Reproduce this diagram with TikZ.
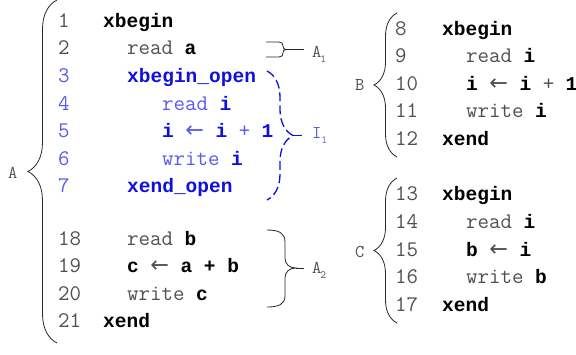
\documentclass[tikz,border=0pt]{standalone}
\usepackage{fontspec}
\newfontfamily\arrowfont{DejaVu Sans}
\newfontfamily\boldmono{Liberation Mono}[Scale=0.875]
\usetikzlibrary{decorations.pathreplacing}
\definecolor{txtgray}{RGB}{80,80,80}
\definecolor{bracegray}{RGB}{40,40,40}
\definecolor{kwblue}{RGB}{15,15,225}
\definecolor{ltblue}{RGB}{90,90,240}
\newcommand{\kw}[1]{{\boldmono\bfseries\textcolor{black}{#1}}}
\newcommand{\bkw}[1]{{\boldmono\bfseries\textcolor{kwblue}{#1}}}
\newcommand{\larr}{{\arrowfont ←}}
\newcommand{\lowidx}[2][0pt]{\hspace*{#1}\raisebox{-5pt}{\fontsize{11}{12}\selectfont #2}}

\begin{document}
\begin{tikzpicture}[x=1pt,y=-1pt,
		font=\ttfamily\fontsize{22.3}{26}\selectfont,
		num/.style={anchor=base west,inner sep=0pt,text=txtgray},
		code/.style={anchor=base west,inner sep=0pt,text=txtgray},
		bnum/.style={num,text=ltblue},
		bcode/.style={code,text=ltblue},
		lbl/.style={anchor=base west,inner sep=0pt,text=txtgray,font=\ttfamily\fontsize{18}{20}\selectfont},
		tag/.style={lbl,inner xsep=8pt},
		brc/.style={decorate,decoration={brace,amplitude=#1},draw=bracegray,line width=0.8pt},
		dbrc/.style={brc=#1,draw=kwblue,line width=1.3pt,dash pattern=on 9pt off 4pt}
		]
		\useasboundingbox (0,0) rectangle (576,354);
		%Transaction A
		\path (58,27) node[num] (n1) {1}
		+(45,0) node[code] (c1) {\kw{xbegin}}
		(58,54.5) node[num] (n2) {2}
		+(69,0) node[code] (c2) {read \kw{a}};
		%Open block
		\path (58,82) node[bnum] (n3) {3}
		+(69,0) node[bcode] (c3) {\bkw{xbegin\_open}}
		(58,110) node[bnum] (n4) {4}
		+(104,0) node[bcode] (c4) {read \bkw{i}}
		(58,137.5) node[bnum] (n5) {5}
		+(104,0) node[bcode] (c5) {\bkw{i} \larr{} \bkw{i} + \bkw{1}}
		(58,165) node[bnum] (n6) {6}
		+(104,0) node[bcode] (c6) {write \bkw{i}}
		(58,192.5) node[bnum] (n7) {7}
		+(69,0) node[bcode] (c7) {\bkw{xend\_open}};
		\path (58,245) node[num] (n18) {18}
		+(69,0) node[code] (c18) {read \kw{b}}
		(58,272.5) node[num] (n19) {19}
		+(69,0) node[code] (c19) {\kw{c} \larr{} \kw{a + b}}
		(58,300) node[num] (n20) {20}
		+(69,0) node[code] (c20) {write \kw{c}}
		(58,327.5) node[num] (n21) {21}
		+(45,0) node[code] (c21) {\kw{xend}};
		%Transaction B
		\path (395,35) node[num] (n8) {8}
		+(47,0) node[code] (c8) {\kw{xbegin}}
		(395,62.5) node[num] (n9) {9}
		+(71,0) node[code] (c9) {read \kw{i}}
		(395,90) node[num] (n10) {10}
		+(71,0) node[code] (c10) {\kw{i} \larr{} \kw{i} + \kw{1}}
		(395,117.5) node[num] (n11) {11}
		+(71,0) node[code] (c11) {write \kw{i}}
		(395,145) node[num] (n12) {12}
		+(47,0) node[code] (c12) {\kw{xend}};
		%Transaction C
		\path (395,200.5) node[num] (n13) {13}
		+(47,0) node[code] (c13) {\kw{xbegin}}
		(395,228) node[num] (n14) {14}
		+(71,0) node[code] (c14) {read \kw{i}}
		(395,256) node[num] (n15) {15}
		+(71,0) node[code] (c15) {\kw{b} \larr{} \kw{i}}
		(395,283.5) node[num] (n16) {16}
		+(71,0) node[code] (c16) {write \kw{b}}
		(395,311) node[num] (n17) {17}
		+(47,0) node[code] (c17) {\kw{xend}};
		%Braces
		\draw[brc=29] (57,343) -- (57,0);
		\draw[brc=23] (397,157) -- (397,13);
		\draw[brc=23] (397,323) -- (397,178);
		\draw[dbrc=26] (267,71) -- coordinate[midway,xshift=26pt] (i1tip) (267,200);
		\coordinate (a1tip) at (286,49.5);
		\draw[bracegray,line width=0.8pt] (266,42) -- (279,42)
		.. controls (282,42) and (283,43.5) .. (283,46)
		.. controls (283,48.5) and (284,49.5) .. (a1tip)
		.. controls (284,49.5) and (283,50.5) .. (283,53)
		.. controls (283,55.5) and (282,57) .. (279,57) -- (266,57);
		\coordinate (a2tip) at (296,268);
		\draw[bracegray,line width=0.8pt] (267,230)
		.. controls (279,230) and (285,233) .. (285,242) -- (285,258)
		.. controls (285,264) and (289,268) .. (a2tip)
		.. controls (289,268) and (285,272) .. (285,278) -- (285,296)
		.. controls (285,304) and (279,307) .. (267,307);
		%Labels
		\node[lbl] (labA) at (8,178) {A};
		\node[lbl] (labB) at (355,90) {B};
		\node[lbl] (labC) at (355,257) {C};
		\node[tag] (labA1) at (304,57) {A\lowidx[-1pt]{1}};
		\node[tag,text=ltblue] (labI1) at (304,138) {I\lowidx{1}};
		\node[tag] (labA2) at (304,273) {A\lowidx[-1pt]{2}};
		\draw[bracegray,line width=0.8pt] (a1tip) -- (a1tip -| labA1.west);
		\draw[kwblue,line width=1.3pt,dash pattern=on 9pt off 4pt] (i1tip) -- (i1tip -| labI1.west);
		\draw[bracegray,line width=0.8pt] (a2tip) -- (a2tip -| labA2.west);
	\end{tikzpicture}
\end{document}
